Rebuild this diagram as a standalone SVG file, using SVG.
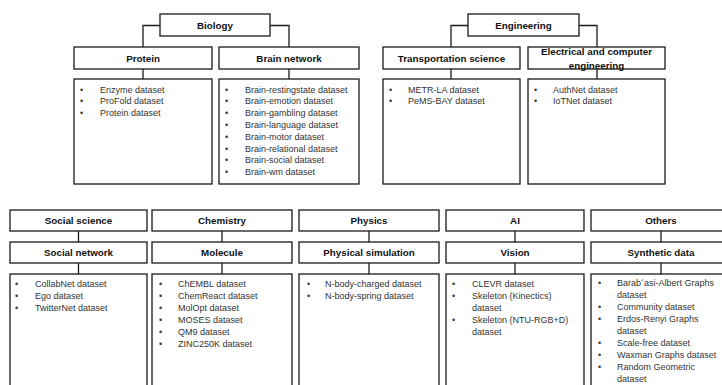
<svg xmlns="http://www.w3.org/2000/svg" width="722" height="385" viewBox="0 0 722 385">
<style>
.box{fill:#fff;stroke:#1a1a1a;stroke-width:1.3}
.hd{font-family:"Liberation Sans",Arial,sans-serif;font-size:9.8px;font-weight:bold;fill:#111;text-anchor:middle}
.it{font-family:"Liberation Sans",Arial,sans-serif;font-size:9px;fill:#333}
.con{fill:none;stroke:#1a1a1a;stroke-width:1.3}
</style>
<rect width="722" height="385" fill="#fff"/>
<g id="connectors" class="con">
<path d="M160,25.5H143V47M270,25.5H289V47"/>
<path d="M143,69V79M289,69V79"/>
<path d="M468,25.5H451V47M579,25.5H597V47"/>
<path d="M451,69V79M597,69V79"/>
<path d="M78.5,231V242M78.5,263V274"/>
<path d="M222,231V242M222,263V274"/>
<path d="M369,231V242M369,263V274"/>
<path d="M515,231V242M515,263V274"/>
<path d="M661,231V242M661,263V274"/>
</g>
<g id="biology"><rect class="box" x="160" y="14" width="110" height="22"/><text class="hd" x="215" y="29">Biology</text></g>
<g id="protein"><rect class="box" x="74" y="47" width="138" height="22"/><text class="hd" x="143" y="62">Protein</text></g>
<g id="brain-network"><rect class="box" x="219" y="47" width="140" height="22"/><text class="hd" x="289" y="62">Brain network</text></g>
<g id="protein-list"><rect class="box" x="74" y="79" width="138" height="105"/>
<g class="it"><text x="80" y="92.5">•</text><text x="100" y="92.5">Enzyme dataset</text>
<text x="80" y="104.3">•</text><text x="100" y="104.3">ProFold dataset</text>
<text x="80" y="116.1">•</text><text x="100" y="116.1">Protein dataset</text></g></g>
<g id="brain-list"><rect class="box" x="219" y="79" width="140" height="105"/>
<g class="it"><text x="225" y="92.5">•</text><text x="245" y="92.5">Brain-restingstate dataset</text>
<text x="225" y="104.3">•</text><text x="245" y="104.3">Brain-emotion dataset</text>
<text x="225" y="116.1">•</text><text x="245" y="116.1">Brain-gambling dataset</text>
<text x="225" y="127.9">•</text><text x="245" y="127.9">Brain-language dataset</text>
<text x="225" y="139.7">•</text><text x="245" y="139.7">Brain-motor dataset</text>
<text x="225" y="151.5">•</text><text x="245" y="151.5">Brain-relational dataset</text>
<text x="225" y="163.3">•</text><text x="245" y="163.3">Brain-social dataset</text>
<text x="225" y="175.1">•</text><text x="245" y="175.1">Brain-wm dataset</text></g></g>
<g id="engineering"><rect class="box" x="468" y="14" width="111" height="22"/><text class="hd" x="523.5" y="29">Engineering</text></g>
<g id="transportation"><rect class="box" x="383" y="47" width="137" height="22"/><text class="hd" x="451.5" y="62">Transportation science</text></g>
<g id="electrical"><rect class="box" x="528" y="47" width="137" height="22"/><text class="hd" x="596.5" y="55">Electrical and computer</text><text class="hd" x="596.5" y="68.5">engineering</text></g>
<g id="transportation-list"><rect class="box" x="383" y="79" width="137" height="105"/>
<g class="it"><text x="389" y="92.5">•</text><text x="408" y="92.5">METR-LA dataset</text>
<text x="389" y="104.3">•</text><text x="408" y="104.3">PeMS-BAY dataset</text></g></g>
<g id="electrical-list"><rect class="box" x="528" y="79" width="137" height="105"/>
<g class="it"><text x="534" y="92.5">•</text><text x="553" y="92.5">AuthNet dataset</text>
<text x="534" y="104.3">•</text><text x="553" y="104.3">IoTNet dataset</text></g></g>
<g id="social-science"><rect class="box" x="10" y="210" width="137" height="21"/><text class="hd" x="78.5" y="224">Social science</text></g>
<g id="social-network"><rect class="box" x="10" y="242" width="137" height="21"/><text class="hd" x="78.5" y="256">Social network</text></g>
<g id="social-list"><rect class="box" x="10" y="274" width="137" height="120"/>
<g class="it"><text x="15" y="286.5">•</text><text x="35" y="286.5">CollabNet dataset</text>
<text x="15" y="298.5">•</text><text x="35" y="298.5">Ego dataset</text>
<text x="15" y="310.5">•</text><text x="35" y="310.5">TwitterNet dataset</text></g></g>
<g id="chemistry"><rect class="box" x="152" y="210" width="140" height="21"/><text class="hd" x="222" y="224">Chemistry</text></g>
<g id="molecule"><rect class="box" x="152" y="242" width="140" height="21"/><text class="hd" x="222" y="256">Molecule</text></g>
<g id="molecule-list"><rect class="box" x="152" y="274" width="140" height="120"/>
<g class="it"><text x="159" y="286.5">•</text><text x="178" y="286.5">ChEMBL dataset</text>
<text x="159" y="298.5">•</text><text x="178" y="298.5">ChemReact dataset</text>
<text x="159" y="310.5">•</text><text x="178" y="310.5">MolOpt dataset</text>
<text x="159" y="322.5">•</text><text x="178" y="322.5">MOSES dataset</text>
<text x="159" y="334.5">•</text><text x="178" y="334.5">QM9 dataset</text>
<text x="159" y="346.5">•</text><text x="178" y="346.5">ZINC250K dataset</text></g></g>
<g id="physics"><rect class="box" x="299" y="210" width="140" height="21"/><text class="hd" x="369" y="224">Physics</text></g>
<g id="physical-simulation"><rect class="box" x="299" y="242" width="140" height="21"/><text class="hd" x="369" y="256">Physical simulation</text></g>
<g id="physics-list"><rect class="box" x="299" y="274" width="140" height="120"/>
<g class="it"><text x="307" y="286.5">•</text><text x="325" y="286.5">N-body-charged dataset</text>
<text x="307" y="298.5">•</text><text x="325" y="298.5">N-body-spring dataset</text></g></g>
<g id="ai"><rect class="box" x="446" y="210" width="138" height="21"/><text class="hd" x="515" y="224">AI</text></g>
<g id="vision"><rect class="box" x="446" y="242" width="138" height="21"/><text class="hd" x="515" y="256">Vision</text></g>
<g id="vision-list"><rect class="box" x="446" y="274" width="138" height="120"/>
<g class="it"><text x="452" y="286.5">•</text><text x="472" y="286.5">CLEVR dataset</text>
<text x="452" y="298.5">•</text><text x="472" y="298.5">Skeleton (Kinectics)</text>
<text x="472" y="310.5">dataset</text>
<text x="452" y="322.5">•</text><text x="472" y="322.5">Skeleton (NTU-RGB+D)</text>
<text x="472" y="334.5">dataset</text></g></g>
<g id="others"><rect class="box" x="591" y="210" width="140" height="21"/><text class="hd" x="661" y="224">Others</text></g>
<g id="synthetic-data"><rect class="box" x="591" y="242" width="140" height="21"/><text class="hd" x="661" y="256">Synthetic data</text></g>
<g id="synthetic-list"><rect class="box" x="591" y="274" width="140" height="120"/>
<g class="it"><text x="598" y="286">•</text><text x="617" y="286">Barab´asi-Albert Graphs</text>
<text x="617" y="298">dataset</text>
<text x="598" y="310">•</text><text x="617" y="310">Community dataset</text>
<text x="598" y="322">•</text><text x="617" y="322">Erdos-Renyi Graphs</text>
<text x="617" y="334">dataset</text>
<text x="598" y="346">•</text><text x="617" y="346">Scale-free dataset</text>
<text x="598" y="358">•</text><text x="617" y="358">Waxman Graphs dataset</text>
<text x="598" y="370">•</text><text x="617" y="370">Random Geometric</text>
<text x="617" y="382">dataset</text></g></g>
</svg>
